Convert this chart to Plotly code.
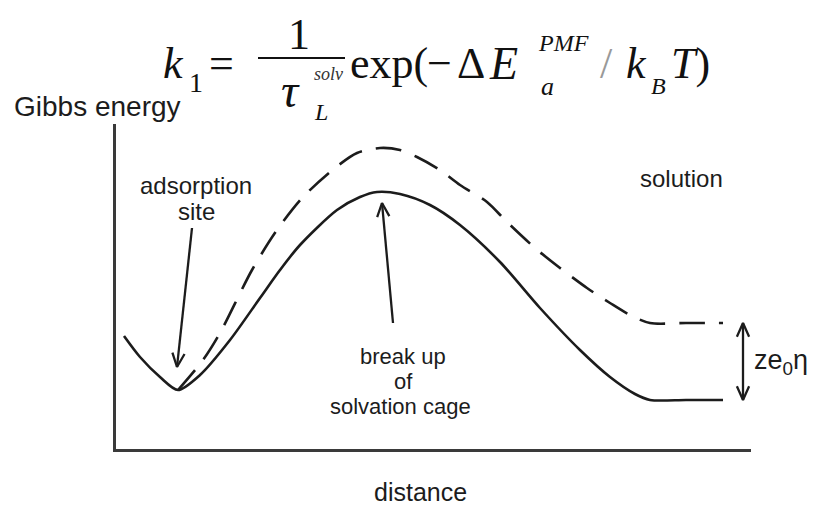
import math
import plotly.graph_objects as go

# Gibbs-energy profiles along the reaction coordinate (1 unit = 10 px on screen)
solid_distance = [0.8, 2.4, 4.4, 6.2, 8.4, 11.4, 14.4, 16.4, 18.4, 22.1, 24.4, 26.1,
                  28.4, 31.4, 34.4, 38.4, 42.4, 46.4, 49.4, 51.9, 53.4, 57.0, 60.7]
solid_energy = [11.3, 9.2, 7.2, 5.9, 7.4, 10.9, 15.1, 17.9, 20.4, 23.9, 25.2, 25.7,
                25.5, 24.4, 22.4, 18.7, 14.1, 9.9, 7.2, 5.5, 4.9, 4.9, 4.9]

dashed_distance = [6.2, 8.7, 10.4, 13.6, 16.1, 18.7, 21.9, 24.1, 26.4, 28.4, 30.1,
                   32.4, 34.4, 37.1, 39.1, 41.9, 44.4, 47.1, 49.4, 51.4, 53.4, 57.0, 60.7]
dashed_energy = [5.9, 8.9, 11.6, 17.9, 21.9, 25.2, 28.1, 29.6, 30.1, 29.9, 29.2,
                 27.9, 26.4, 24.7, 22.7, 20.1, 18.1, 16.1, 14.6, 13.4, 12.6, 12.6, 12.6]

# Pointer arrows: (tail, head) in data units
adsorption_arrow = [(7.6, 22.1), (6.1, 8.2)]
barrier_arrow = [(27.7, 12.6), (26.6, 24.6)]
shift_arrow_x = 62.7

X_RANGE = [0, 63.5]
Y_RANGE = [0, 32.5]

W, H = 830, 509
ML, MT, MB = 116, 124, 60
MR = W - ML - 635
INK = "#1c1c1c"
SANS = "Liberation Sans, Arial, sans-serif"
SERIF = "Liberation Serif, Times New Roman, serif"


def to_paper(xp, yp):
    """Screen pixel position -> paper coordinates of the plot area."""
    return (xp - ML) / (W - ML - MR), (H - MB - yp) / (H - MT - MB)


fig = go.Figure()

fig.add_trace(go.Scatter(
    x=solid_distance, y=solid_energy, mode="lines",
    line=dict(color=INK, width=2.6, shape="spline", smoothing=0.8),
    hoverinfo="skip", showlegend=False))

fig.add_trace(go.Scatter(
    x=dashed_distance, y=dashed_energy, mode="lines",
    line=dict(color=INK, width=2.6, shape="spline", smoothing=0.8, dash="26px,14px"),
    hoverinfo="skip", showlegend=False))


def head_path(tail, head, length=1.5, spread=24):
    """Open V-shaped arrowhead at `head`, pointing away from `tail`."""
    dx, dy = head[0] - tail[0], head[1] - tail[1]
    n = math.hypot(dx, dy)
    ux, uy = dx / n, dy / n
    xs, ys = [], []
    for sgn in (1, -1):
        a = math.radians(sgn * spread)
        bx = ux * math.cos(a) - uy * math.sin(a)
        by = ux * math.sin(a) + uy * math.cos(a)
        xs.append(head[0] - length * bx)
        ys.append(head[1] - length * by)
    return [xs[0], head[0], xs[1]], [ys[0], head[1], ys[1]]


def arrow(tail, head, both=False):
    xs, ys = [tail[0], head[0], None], [tail[1], head[1], None]
    hx, hy = head_path(tail, head)
    xs += hx + [None]
    ys += hy + [None]
    if both:
        hx, hy = head_path(head, tail)
        xs += hx
        ys += hy
    fig.add_trace(go.Scatter(
        x=xs, y=ys, mode="lines", line=dict(color=INK, width=2.3),
        hoverinfo="skip", showlegend=False))


arrow(*adsorption_arrow)
arrow(*barrier_arrow)
# Vertical shift between the two final-state plateaus
arrow((shift_arrow_x, solid_energy[-1]), (shift_arrow_x, dashed_energy[-1]), both=True)

annotations = []


def label(text, xp, yp, size, font=SANS, xanchor="center", color=INK):
    px_, py_ = to_paper(xp, yp)
    annotations.append(dict(
        x=px_, y=py_, xref="paper", yref="paper", text=text, showarrow=False,
        xanchor=xanchor, yanchor="middle", font=dict(family=font, size=size, color=color)))


# Axis titles and curve labels
label("Gibbs energy", 97, 107, 28)
label("distance", 420, 492, 25)
label("adsorption", 196, 185, 24)
label("site", 196, 211, 24)
label("solution", 681, 178, 24)
label("break up", 403, 356, 22)
label("of", 403, 381, 22)
label("solvation cage", 400, 406, 22)
label("ze<sub>0</sub>η", 752, 362, 27, xanchor="left")

# Rate expression
FS = 44
BLK = "#111"
label("<i>k</i>", 161, 63, FS, font=SERIF, xanchor="left", color=BLK)
label("1", 187, 82, 28, font=SERIF, xanchor="left", color=BLK)
label("=", 207, 63, FS, font=SERIF, xanchor="left", color=BLK)
label("1", 299, 34, FS, font=SERIF, color=BLK)
label("<i>τ</i>", 290, 91, 48, font=SERIF, color=BLK)
label("<i>solv</i>", 312, 74, 18, font=SERIF, xanchor="left", color="#333")
label("<i>L</i>", 312, 112, 24, font=SERIF, xanchor="left", color=BLK)
label("exp(", 348, 63, FS, font=SERIF, xanchor="left", color=BLK)
label("−", 425, 63, FS, font=SERIF, xanchor="left", color=BLK)
label("Δ", 455, 63, FS, font=SERIF, xanchor="left", color=BLK)
label("<i>E</i>", 487, 63, 46, font=SERIF, xanchor="left", color=BLK)
label("<i>PMF</i>", 536, 43, 24, font=SERIF, xanchor="left", color=BLK)
label("<i>a</i>", 539, 86, 26, font=SERIF, xanchor="left", color=BLK)
label("/", 598, 63, FS, font=SERIF, xanchor="left", color="#999")
label("<i>k</i>", 624, 63, FS, font=SERIF, xanchor="left", color=BLK)
label("<i>B</i>", 649, 86, 24, font=SERIF, xanchor="left", color=BLK)
label("<i>T</i>)", 669, 63, FS, font=SERIF, xanchor="left", color=BLK)

bar0, barY = to_paper(258, 58)
bar1, _ = to_paper(345, 58)

fig.update_layout(
    width=W, height=H,
    margin=dict(l=ML, r=MR, t=MT, b=MB),
    paper_bgcolor="white", plot_bgcolor="white",
    showlegend=False,
    annotations=annotations,
    shapes=[dict(type="line", xref="paper", yref="paper", x0=bar0, x1=bar1,
                 y0=barY, y1=barY, line=dict(color=BLK, width=2.2))],
    xaxis=dict(range=X_RANGE, showgrid=False, zeroline=False, showticklabels=False,
               ticks="", showline=True, linewidth=2.6, linecolor="#3a3a3a", fixedrange=True),
    yaxis=dict(range=Y_RANGE, showgrid=False, zeroline=False, showticklabels=False,
               ticks="", showline=True, linewidth=2.6, linecolor="#3a3a3a", fixedrange=True),
)

fig.write_html("out.html")
